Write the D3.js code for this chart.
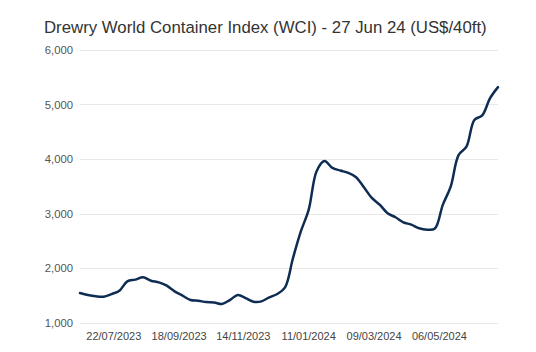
<!doctype html>
<html lang="en">
<head>
<meta charset="utf-8">
<title>Drewry WCI</title>
<script src="https://cdn.jsdelivr.net/npm/d3@7"></script>
<style>
  body { margin: 0; background: #fff; }
  svg { display: block; font-family: "Liberation Sans", Arial, sans-serif; }
  .grid line { stroke: #e8e8e8; stroke-width: 1px; }
  .ylab { fill: #555; font-size: 11.3px; }
  .xlab { fill: #444; font-size: 11px; }
</style>
</head>
<body>
<div id="chart"></div>
<script>
  // weekly WCI composite, 22 Jun 2023 .. 27 Jun 2024
  var startDate = "2023-06-22";
  var values = [
    1541, 1504, 1480, 1473, 1522, 1584, 1755, 1786, 1829, 1767,
    1737, 1675, 1571, 1492, 1412, 1400, 1375, 1369, 1339, 1412,
    1504, 1449, 1382, 1388, 1461, 1522, 1645, 2179, 2670, 3072,
    3777, 3964, 3837, 3788, 3745, 3666, 3482, 3286, 3163, 3004,
    2931, 2839, 2796, 2729, 2704, 2724, 3159, 3493, 4072, 4226,
    4716, 4801, 5117, 5319
  ];
  var xTickLabels = ["22/07/2023", "18/09/2023", "14/11/2023", "11/01/2024", "09/03/2024", "06/05/2024"];
  var yTicks = [1000, 2000, 3000, 4000, 5000, 6000];
  var title = "Drewry World Container Index (WCI) - 27 Jun 24 (US$/40ft)";

  var width = 536, height = 352;
  var parse = d3.timeParse("%d/%m/%Y");
  var t0 = d3.timeParse("%Y-%m-%d")(startDate);
  var data = values.map(function(v, i) { return { date: d3.timeDay.offset(t0, i * 7), value: v }; });

  var x = d3.scaleTime()
      .domain(d3.extent(data, function(d) { return d.date; }))
      .range([80, 498]);
  var y = d3.scaleLinear().domain([1000, 6000]).range([322.5, 50]);

  var svg = d3.select("#chart").append("svg")
      .attr("width", width)
      .attr("height", height);

  svg.append("text")
      .attr("x", 44).attr("y", 33)
      .attr("fill", "#333")
      .style("font-size", "16.8px")
      .text(title);

  var grid = svg.append("g").attr("class", "grid");
  grid.selectAll("line").data(yTicks).enter().append("line")
      .attr("x1", 80).attr("x2", 498)
      .attr("y1", function(d) { return Math.round(y(d)) + 0.5; })
      .attr("y2", function(d) { return Math.round(y(d)) + 0.5; });

  svg.selectAll(".ylab").data(yTicks).enter().append("text")
      .attr("class", "ylab")
      .attr("x", 73)
      .attr("y", function(d) { return y(d) + 4; })
      .attr("text-anchor", "end")
      .text(d3.format(","));

  svg.selectAll(".xlab").data(xTickLabels).enter().append("text")
      .attr("class", "xlab")
      .attr("x", function(d) { return x(parse(d)); })
      .attr("y", 340)
      .attr("text-anchor", "middle")
      .text(function(d) { return d; });

  var line = d3.line()
      .x(function(d) { return x(d.date); })
      .y(function(d) { return y(d.value); })
      .curve(d3.curveCatmullRom.alpha(0.5));

  svg.append("path")
      .datum(data)
      .attr("fill", "none")
      .attr("stroke", "#0f2c52")
      .attr("stroke-width", 2.5)
      .attr("stroke-linejoin", "round")
      .attr("stroke-linecap", "round")
      .attr("d", line);
</script>
</body>
</html>
